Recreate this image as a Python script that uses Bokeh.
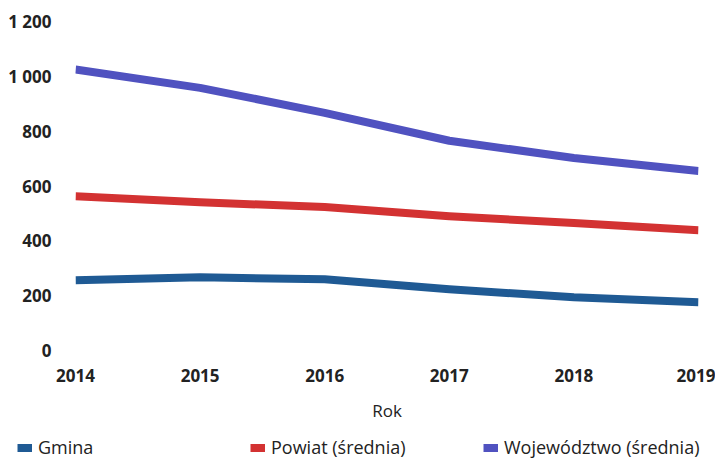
from bokeh.plotting import figure
from bokeh.models import FixedTicker, Legend, LegendItem
from bokeh.layouts import column, row
from bokeh.embed import file_html
from bokeh.resources import INLINE

years = [2014, 2015, 2016, 2017, 2018, 2019]
gmina = [256, 267, 260, 223, 194, 176]
powiat = [563, 541, 523, 490, 465, 439]
wojewodztwo = [1025, 958, 867, 765, 702, 655]
y_ticks = [0, 200, 400, 600, 800, 1000, 1200]
y_tick_labels = ["0", "200", "400", "600", "800", "1 000", "1 200"]
series_names = ["Gmina", "Powiat (średnia)", "Województwo (średnia)"]
colors = ["#1f5a94", "#d33232", "#5052c0"]

p = figure(width=715, height=424, output_backend="svg", toolbar_location=None,
           x_range=(2014, 2019), y_range=(0, 1200),
           min_border_left=75, min_border_right=17, min_border_top=21, min_border_bottom=70)
p.outline_line_color = None
p.grid.grid_line_color = None

for data, c in zip([gmina, powiat, wojewodztwo], colors):
    p.line(years, data, line_color=c, line_width=8, line_cap="butt", line_join="round")

p.xaxis.ticker = FixedTicker(ticks=years)
p.yaxis.ticker = FixedTicker(ticks=y_ticks)
p.yaxis.major_label_overrides = {t: l for t, l in zip(y_ticks, y_tick_labels)}
for ax in (p.xaxis, p.yaxis):
    ax.axis_line_color = None
    ax.major_tick_line_color = None
    ax.minor_tick_line_color = None
    ax.major_label_text_font = "Open Sans"
    ax.major_label_text_font_size = "17px"
    ax.major_label_text_font_style = "bold"
    ax.major_label_text_color = "#222222"
p.yaxis.major_label_standoff = 18
p.xaxis.major_label_standoff = 12
p.xaxis.axis_label = "Rok"
p.xaxis.axis_label_text_font = "Open Sans"
p.xaxis.axis_label_text_font_size = "17px"
p.xaxis.axis_label_text_font_style = "normal"
p.xaxis.axis_label_text_color = "#222222"
p.xaxis.axis_label_standoff = 14

# legend strip
lg = figure(width=715, height=35, output_backend="svg", toolbar_location=None,
            x_axis_type=None, y_axis_type=None, x_range=(0, 1), y_range=(0, 1),
            min_border_left=0, min_border_right=0, min_border_top=0, min_border_bottom=0)
lg.outline_line_color = None
lg.grid.grid_line_color = None
items = []
for n, c in zip(series_names, colors):
    r = lg.line([5, 6], [5, 5], line_color=c, line_width=8, line_cap="butt")
    items.append(LegendItem(label=n, renderers=[r]))
legend = Legend(items=items, orientation="horizontal", location=(17, 0),
                glyph_width=15, glyph_height=9, label_standoff=6, label_width=212,
                spacing=0, padding=0, margin=0,
                border_line_alpha=0, background_fill_alpha=0,
                label_text_font="Open Sans", label_text_font_size="18px",
                label_text_color="#222222")
lg.add_layout(legend, "center")

layout = column(p, row(lg), spacing=0)
open("out.html", "w").write(file_html(layout, INLINE))
